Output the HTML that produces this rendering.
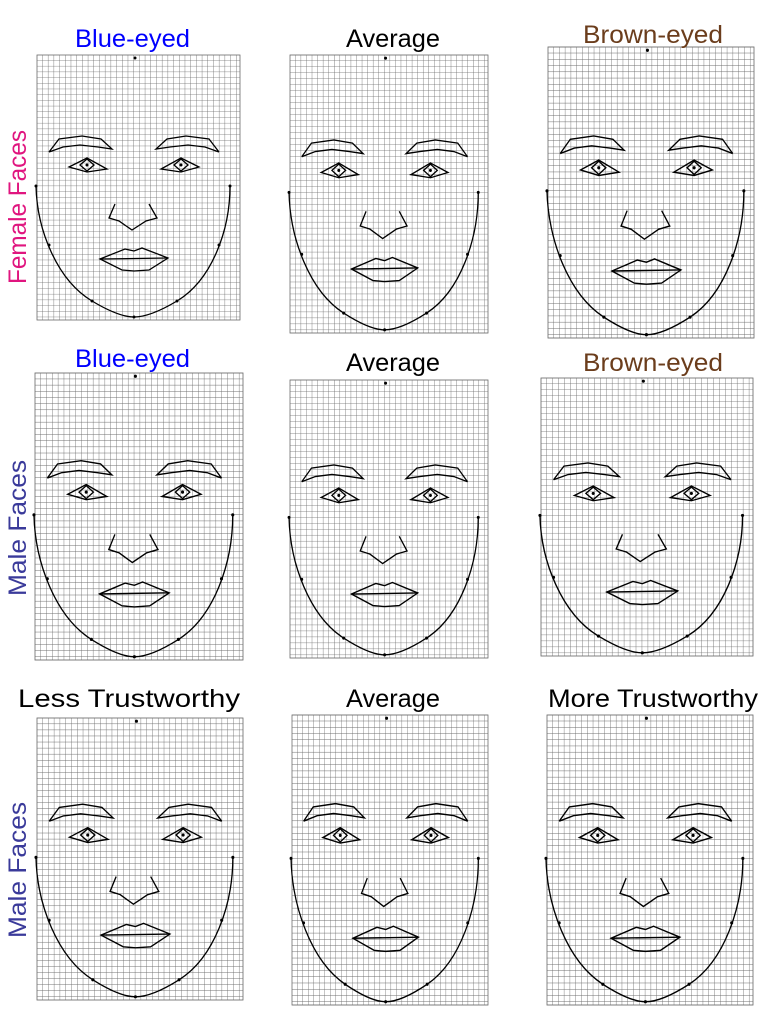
<!DOCTYPE html>
<html><head><meta charset="utf-8"><style>
html,body{margin:0;padding:0;background:#fff;width:768px;height:1024px;overflow:hidden}
svg text{font-family:"Liberation Sans",sans-serif;font-size:25px}
</style></head><body>
<svg width="768" height="1024" viewBox="0 0 768 1024" xmlns="http://www.w3.org/2000/svg">
<defs>
<pattern id="g" width="5.7" height="5.7" patternUnits="userSpaceOnUse">
<path d="M5.7 0V5.7M0 5.7H5.7" stroke="#6a6a6a" stroke-width="0.8" fill="none"/>
</pattern>
<symbol id="face" viewBox="0 0 203 265" preserveAspectRatio="none" overflow="visible">
<rect x="0" y="0" width="203" height="265" fill="url(#g)"/>
<rect x="0" y="0" width="203" height="265" fill="none" stroke="#6a6a6a" stroke-width="0.8"/>
<g fill="none" stroke="#000" stroke-width="1.3">
<path d="M-1,131 C0,175 20,225 55,246 C75,258 88,262 97,262 C106,262 120,258 140,246 C175,225 193,175 193,131"/>
<polyline points="12,97 22,84 45,81 64,84 75,94 61,92 43,90 26,92 12,97"/>
<polyline points="182,97 172,84 149,81 130,84 119,94 133,92 151,90 168,92 182,97"/>
<polygon points="32,112 50,103 70,114 50,117"/>
<polygon points="43,110 50,104 57,110 50,116"/>
<polygon points="162,112 144,103 124,114 144,117"/>
<polygon points="151,110 144,104 137,110 144,116"/>
<polyline points="78,149 72,163 82,166 95,175 109,166 120,163 112,149"/>
<polygon points="63,204 88,194 97,196 105,193 131,203 112,215 97,216 85,215"/>
<line x1="63" y1="204" x2="131" y2="203"/>
</g>
<g fill="#000">
<circle cx="98" cy="3" r="1.5"/><circle cx="50" cy="110" r="1.5"/><circle cx="144" cy="110" r="1.5"/>
<circle cx="97" cy="262" r="1.5"/><circle cx="-1" cy="131" r="1.5"/><circle cx="193" cy="131" r="1.5"/>
<circle cx="55" cy="246" r="1.5"/><circle cx="140" cy="246" r="1.5"/><circle cx="12" cy="190" r="1.5"/><circle cx="182" cy="190" r="1.5"/>
</g>
</symbol>
</defs>
<use href="#face" x="37" y="55" width="203" height="265"/>
<use href="#face" x="290" y="55" width="198" height="278"/>
<use href="#face" x="548" y="47" width="206" height="291"/>
<use href="#face" x="35" y="373" width="208" height="287"/>
<use href="#face" x="290" y="380" width="198" height="278"/>
<use href="#face" x="541" y="378" width="212" height="278"/>
<use href="#face" x="37" y="718" width="206" height="282"/>
<use href="#face" x="292" y="715" width="196" height="290"/>
<use href="#face" x="547" y="715" width="206" height="290"/>

<text x="75" y="47" textLength="115" lengthAdjust="spacingAndGlyphs" fill="#0000ff">Blue-eyed</text>
<text x="346" y="47" textLength="94" lengthAdjust="spacingAndGlyphs" fill="#000">Average</text>
<text x="583" y="43" textLength="140" lengthAdjust="spacingAndGlyphs" fill="#6b3d1c">Brown-eyed</text>
<text x="75" y="367" textLength="115" lengthAdjust="spacingAndGlyphs" fill="#0000ff">Blue-eyed</text>
<text x="346" y="371" textLength="94" lengthAdjust="spacingAndGlyphs" fill="#000">Average</text>
<text x="583" y="371" textLength="140" lengthAdjust="spacingAndGlyphs" fill="#6b3d1c">Brown-eyed</text>
<text x="18" y="707" textLength="222" lengthAdjust="spacingAndGlyphs" fill="#000">Less Trustworthy</text>
<text x="346" y="707" textLength="94" lengthAdjust="spacingAndGlyphs" fill="#000">Average</text>
<text x="548" y="707" textLength="210" lengthAdjust="spacingAndGlyphs" fill="#000">More Trustworthy</text>

<text transform="translate(26,284) rotate(-90)" textLength="154" lengthAdjust="spacingAndGlyphs" fill="#e0157f">Female Faces</text>
<text transform="translate(26,596) rotate(-90)" textLength="136" lengthAdjust="spacingAndGlyphs" fill="#3a3a9a">Male Faces</text>
<text transform="translate(26,938) rotate(-90)" textLength="136" lengthAdjust="spacingAndGlyphs" fill="#3a3a9a">Male Faces</text>
</svg>
</body></html>
